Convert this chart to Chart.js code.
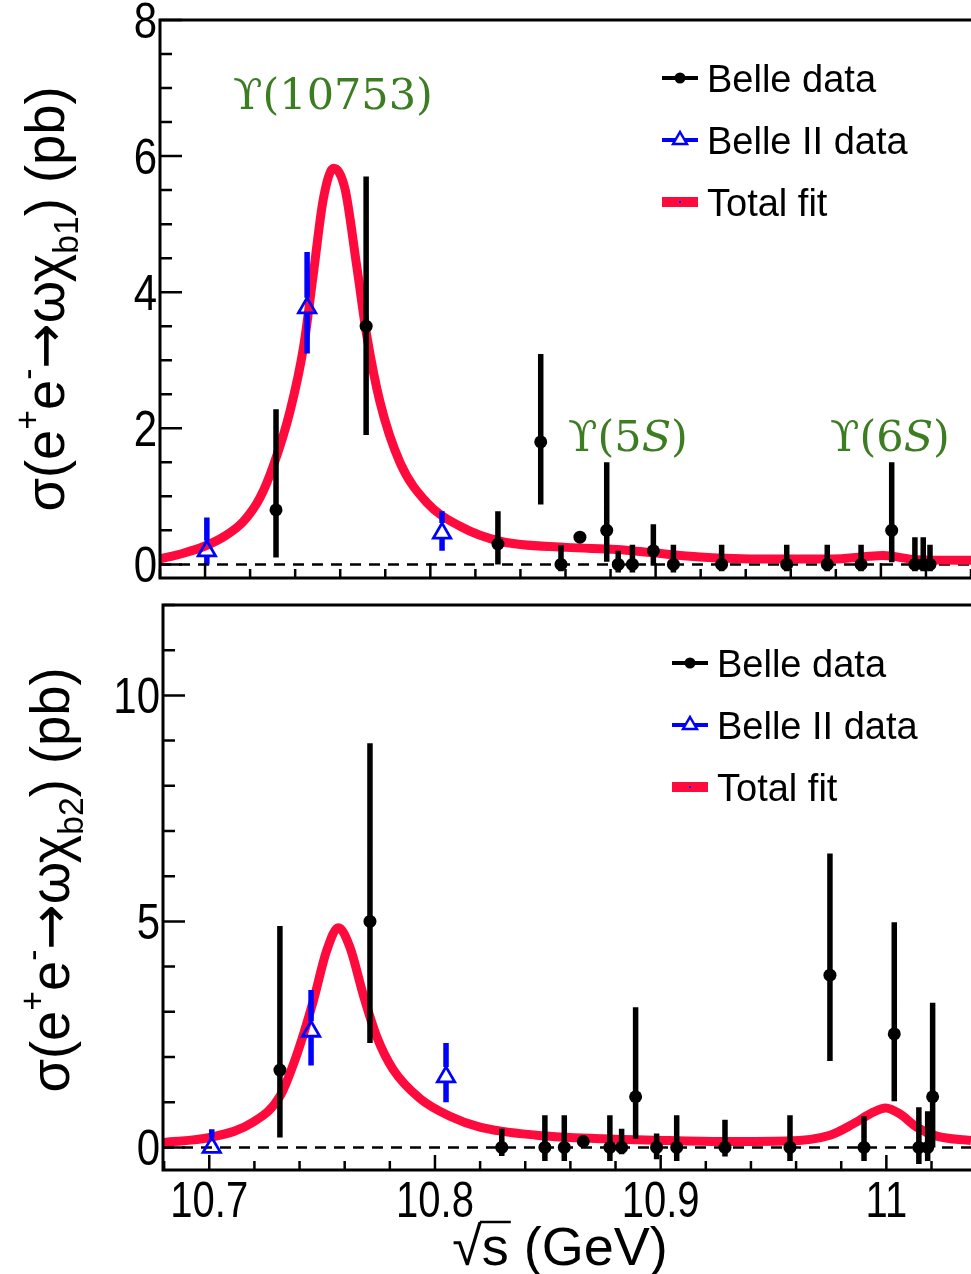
<!DOCTYPE html>
<html>
<head>
<meta charset="utf-8">
<script src="https://cdn.jsdelivr.net/npm/chart.js@4.4.1/dist/chart.umd.min.js"></script>
<style>
    html, body { margin: 0; padding: 0; background: #fff; overflow: hidden; }
    #top { position: absolute; left: 0; top: 0; }
    #bot { position: absolute; left: 0; top: 590px; }
</style>
</head>
<body>
<canvas id="top" width="971" height="590"></canvas>
<canvas id="bot" width="971" height="684"></canvas>
<script>
// chi_b1 panel (top)
const b1BelleX  = [10.7315, 10.7715, 10.830, 10.849, 10.858, 10.8664, 10.8783, 10.8834, 10.8897, 10.899, 10.9079, 10.9293, 10.9582, 10.9762, 10.9912, 11.0048, 11.0151, 11.0188, 11.0218];
const b1BelleY  = [0.80, 3.50, 0.30, 1.80, 0.00, 0.40, 0.50, 0.00, 0.00, 0.20, 0.00, 0.00, 0.00, 0.00, 0.00, 0.50, 0.00, 0.00, 0.00];
const b1BelleLo = [0.10, 1.90, 0.00, 0.88, -0.10, 0.40, 0.04, -0.12, -0.12, -0.02, -0.12, -0.10, -0.10, -0.10, -0.10, 0.03, -0.10, -0.10, -0.10];
const b1BelleHi = [2.28, 5.70, 0.78, 3.09, 0.28, 0.40, 1.50, 0.20, 0.29, 0.59, 0.29, 0.29, 0.29, 0.29, 0.29, 1.50, 0.40, 0.40, 0.29];
const b1Belle2X  = [10.7008, 10.7453, 10.8052];
const b1Belle2Y  = [0.20, 3.77, 0.46];
const b1Belle2Lo = [0.00, 3.10, 0.20];
const b1Belle2Hi = [0.69, 4.59, 0.78];
const b1FitX = [10.68, 10.69, 10.70, 10.708, 10.717, 10.7244, 10.7303, 10.7377, 10.7436, 10.748, 10.7525, 10.757, 10.7621, 10.7673, 10.7718, 10.7777, 10.7865, 10.7984, 10.8132, 10.831, 10.8605, 10.8827, 10.899, 10.9197, 10.949, 10.9789, 10.992, 11.001, 11.0159, 11.04];
const b1FitY = [0.08, 0.16, 0.27, 0.40, 0.63, 0.98, 1.45, 2.25, 3.17, 4.25, 5.37, 5.82, 5.52, 4.39, 3.36, 2.38, 1.50, 0.91, 0.56, 0.34, 0.25, 0.22, 0.17, 0.11, 0.08, 0.08, 0.11, 0.13, 0.07, 0.06];

// chi_b2 panel (bottom)
const b2BelleX  = [10.7313, 10.7712, 10.8296, 10.8487, 10.8573, 10.8657, 10.8775, 10.8827, 10.8889, 10.8982, 10.9071, 10.9285, 10.9573, 10.975, 10.9901, 11.0035, 11.0144, 11.0183, 11.0205];
const b2BelleY  = [1.71, 5.00, 0.00, 0.00, 0.00, 0.13, 0.00, 0.00, 1.12, 0.00, 0.00, 0.00, 0.00, 3.81, 0.00, 2.51, 0.00, 0.00, 1.12];
const b2BelleLo = [0.22, 2.31, -0.19, -0.30, -0.30, 0.13, -0.30, -0.15, 0.19, -0.26, -0.30, -0.20, -0.30, 1.91, -0.30, 1.02, -0.37, -0.30, 0.00];
const b2BelleHi = [4.90, 8.94, 0.41, 0.71, 0.71, 0.13, 0.71, 0.41, 3.10, 0.31, 0.71, 0.61, 0.71, 6.50, 0.69, 4.98, 0.89, 0.80, 3.20];
const b2Belle2X  = [10.7011, 10.7451, 10.8049];
const b2Belle2Y  = [0.00, 2.57, 1.56];
const b2Belle2Lo = [-0.10, 1.81, 1.00];
const b2Belle2Hi = [0.40, 3.48, 2.31];
const b2FitX = [10.6795, 10.7003, 10.7195, 10.7313, 10.7387, 10.7461, 10.752, 10.7572, 10.7623, 10.7682, 10.7742, 10.7815, 10.7934, 10.8066, 10.8199, 10.845, 10.8746, 10.9041, 10.93, 10.9558, 10.975, 10.9853, 10.9942, 10.9997, 11.006, 11.0134, 11.0223, 11.0375];
const b2FitY = [0.11, 0.22, 0.56, 1.13, 2.04, 3.24, 4.35, 4.86, 4.43, 3.38, 2.45, 1.72, 1.08, 0.69, 0.45, 0.27, 0.19, 0.15, 0.13, 0.14, 0.27, 0.52, 0.78, 0.87, 0.74, 0.45, 0.25, 0.15];

// axis labels
const b1YTicks = [0, 2, 4, 6, 8];
const b2YTicks = [0, 5, 10];
const xTickValues = [10.7, 10.8, 10.9, 11.0];
const xTickLabels = ['10.7', '10.8', '10.9', '11'];
const legendLabels = ['Belle data', 'Belle II data', 'Total fit'];

const FONT = '"Liberation Sans", Arial, Helvetica, sans-serif';
const ARROWFONT = '"DejaVu Sans", sans-serif';
const SERIF = '"DejaVu Serif", "Liberation Serif", serif';
const RED = '#ff0a3c';
const BLUE = '#0000ff';
const GREEN = '#3c7d22';

function toPoints(xs, ys) {
    return xs.map((x, i) => ({ x: x, y: ys[i] }));
}

// text with super/subscripts: [text, level, font?]
function partFont(p, size) {
    return `${p[1] ? size * 0.62 : size}px ${p[2] || FONT}`;
}

function richWidth(ctx, parts, size) {
    let w = 0;
    parts.forEach(p => {
        ctx.font = partFont(p, size);
        w += ctx.measureText(p[0]).width;
    });
    return w;
}

function drawRich(ctx, parts, size, x0) {
    let x = x0;
    parts.forEach(p => {
        ctx.font = partFont(p, size);
        const dy = p[1] > 0 ? -size * 0.45 : (p[1] < 0 ? size * 0.25 : 0);
        ctx.fillText(p[0], x, dy);
        x += ctx.measureText(p[0]).width;
    });
}

// narrow axis lettering, like the original
function narrowText(ctx, text, x, y, sx) {
    ctx.save();
    ctx.translate(x, y);
    ctx.scale(sx, 1);
    ctx.fillText(text, 0, 0);
    ctx.restore();
}

function drawTriangle(ctx, x, y, r) {
    ctx.beginPath();
    ctx.moveTo(x, y - r);
    ctx.lineTo(x + r * 0.866, y + r * 0.5);
    ctx.lineTo(x - r * 0.866, y + r * 0.5);
    ctx.closePath();
}

function drawLegend(ctx, lx, ly, dy) {
    ctx.save();
    ctx.lineCap = 'butt';
    // Belle
    ctx.strokeStyle = '#000';
    ctx.lineWidth = 4;
    ctx.beginPath(); ctx.moveTo(lx, ly); ctx.lineTo(lx + 36, ly); ctx.stroke();
    ctx.fillStyle = '#000';
    ctx.beginPath(); ctx.arc(lx + 18, ly, 5.5, 0, Math.PI * 2); ctx.fill();
    // Belle II
    ctx.strokeStyle = BLUE;
    ctx.beginPath(); ctx.moveTo(lx, ly + dy); ctx.lineTo(lx + 36, ly + dy); ctx.stroke();
    ctx.lineWidth = 2.5;
    drawTriangle(ctx, lx + 18, ly + dy, 8);
    ctx.fillStyle = '#fff'; ctx.fill(); ctx.stroke();
    // fit
    ctx.fillStyle = RED;
    ctx.fillRect(lx, ly + 2 * dy - 5, 36, 10);
    ctx.fillStyle = BLUE;
    ctx.fillRect(lx + 17, ly + 2 * dy - 1, 2, 2);
    // labels
    ctx.fillStyle = '#000';
    ctx.font = `38px ${FONT}`;
    ctx.textAlign = 'left';
    ctx.textBaseline = 'alphabetic';
    legendLabels.forEach((t, i) => ctx.fillText(t, lx + 45, ly + i * dy + 14));
    ctx.restore();
}

function makeStyle(cfg) {
    return {
        id: 'rootStyle',
        beforeDatasetsDraw(chart) {
            const { ctx, chartArea: a, scales: { y } } = chart;
            const y0 = y.getPixelForValue(0);
            ctx.save();
            ctx.strokeStyle = '#000';
            ctx.lineWidth = 2.5;
            ctx.setLineDash([11, 8]);
            ctx.beginPath(); ctx.moveTo(a.left, y0); ctx.lineTo(a.right, y0); ctx.stroke();
            ctx.restore();
        },
        beforeDatasetDraw(chart, args) {
            const ds = chart.data.datasets[args.index];
            if (!ds.errLo) return;
            const { ctx, chartArea: a, scales: { x, y } } = chart;
            ctx.save();
            ctx.beginPath();
            ctx.rect(a.left, a.top, a.right - a.left, a.bottom - a.top);
            ctx.clip();
            ctx.strokeStyle = ds.borderColor;
            ctx.lineWidth = ds.errWidth;
            ctx.lineCap = 'butt';
            ctx.beginPath();
            ds.data.forEach((p, i) => {
                const px = x.getPixelForValue(p.x);
                const pc = y.getPixelForValue(p.y);
                const ph = y.getPixelForValue(ds.errHi[i]);
                const pl = y.getPixelForValue(ds.errLo[i]);
                if (pc - ph > ds.errGap[0]) { ctx.moveTo(px, ph); ctx.lineTo(px, pc - ds.errGap[0]); }
                if (pl - pc > ds.errGap[1]) { ctx.moveTo(px, pc + ds.errGap[1]); ctx.lineTo(px, pl); }
            });
            ctx.stroke();
            ctx.restore();
        },
        afterDraw(chart) {
            const { ctx, chartArea: a, scales: { x, y } } = chart;
            ctx.save();
            // inner tick marks
            ctx.strokeStyle = '#000';
            ctx.lineWidth = 2.5;
            ctx.beginPath();
            for (let k = 0; ; k++) {
                const v = k * cfg.yMinor;
                if (v > cfg.yMax + 1e-9) break;
                const major = Math.abs(v / cfg.yMajor - Math.round(v / cfg.yMajor)) < 1e-6;
                const py = y.getPixelForValue(v);
                ctx.moveTo(a.left, py); ctx.lineTo(a.left + (major ? 22 : 12), py);
            }
            for (let k = 0; ; k++) {
                const v = 10.68 + k * 0.02;
                if (v > cfg.xMax) break;
                const major = Math.abs(v * 10 - Math.round(v * 10)) < 1e-6;
                const px = x.getPixelForValue(v);
                ctx.moveTo(px, a.bottom); ctx.lineTo(px, a.bottom - (major ? 15 : 9));
            }
            ctx.stroke();
            // frame (right side is cut off in the original)
            ctx.lineWidth = 3;
            ctx.beginPath();
            ctx.moveTo(a.right, a.top); ctx.lineTo(a.left, a.top);
            ctx.lineTo(a.left, a.bottom); ctx.lineTo(a.right, a.bottom);
            ctx.stroke();
            // y tick labels
            ctx.fillStyle = '#000';
            ctx.font = `50px ${FONT}`;
            ctx.textAlign = 'right';
            ctx.textBaseline = 'alphabetic';
            cfg.yTicks.forEach(v => narrowText(ctx, String(v), a.left - 3, y.getPixelForValue(v) + 18, 0.84));
            // x tick labels and title
            if (cfg.xLabels) {
                ctx.textAlign = 'center';
                xTickLabels.forEach((t, i) => narrowText(ctx, t, x.getPixelForValue(xTickValues[i]), a.bottom + 47, 0.8));
                ctx.font = `54px ${FONT}`;
                ctx.textAlign = 'left';
                const rad = ctx.measureText('\u221a').width;
                const sw = ctx.measureText('s').width;
                const full = ctx.measureText('\u221as (GeV)').width;
                const tx = 560 - full / 2, ty = a.bottom + 95;
                ctx.fillText('\u221as (GeV)', tx, ty);
                ctx.lineWidth = 2.5;
                ctx.beginPath();
                ctx.moveTo(tx + rad - 2, ty - 43); ctx.lineTo(tx + rad + sw + 2, ty - 43);
                ctx.stroke();
            }
            // y title
            ctx.save();
            ctx.translate(cfg.titleX, cfg.titleY);
            ctx.rotate(-Math.PI / 2);
            ctx.scale(0.97, 1);
            ctx.textAlign = 'left';
            ctx.textBaseline = 'alphabetic';
            const w = richWidth(ctx, cfg.title, 56);
            drawRich(ctx, cfg.title, 56, -w / 2);
            ctx.restore();
            // resonance labels
            if (cfg.notes) {
                ctx.fillStyle = GREEN;
                ctx.textAlign = 'left';
                ctx.textBaseline = 'alphabetic';
                cfg.notes.forEach(n => {
                    let nx = n.x;
                    n.parts.forEach(p => {
                        ctx.font = `${p[1] ? 'italic ' : ''}43px ${SERIF}`;
                        ctx.fillText(p[0], nx, n.y);
                        nx += ctx.measureText(p[0]).width;
                    });
                });
            }
            ctx.restore();
            drawLegend(ctx, cfg.legendX, cfg.legendY, 62);
        }
    };
}

function makePanel(id, cfg) {
    return new Chart(document.getElementById(id), {
        type: 'scatter',
        data: {
            datasets: [
                {
                    label: 'Total fit',
                    data: toPoints(cfg.fitX, cfg.fitY),
                    showLine: true,
                    borderColor: RED,
                    borderWidth: 9,
                    pointRadius: 0,
                    cubicInterpolationMode: 'monotone',
                    order: 3
                },
                {
                    label: 'Belle II data',
                    data: toPoints(cfg.b2X, cfg.b2Y),
                    errLo: cfg.b2Lo, errHi: cfg.b2Hi, errGap: [10, 6], errWidth: 5.5,
                    pointStyle: 'triangle',
                    pointRadius: 10,
                    borderColor: BLUE,
                    backgroundColor: 'rgba(255,255,255,0)',
                    borderWidth: 2.8,
                    order: 2
                },
                {
                    label: 'Belle data',
                    data: toPoints(cfg.bX, cfg.bY),
                    errLo: cfg.bLo, errHi: cfg.bHi, errGap: [0, 0], errWidth: 5.5,
                    pointStyle: 'circle',
                    pointRadius: 6.5,
                    backgroundColor: '#000',
                    borderColor: '#000',
                    borderWidth: 0,
                    order: 1
                }
            ]
        },
        options: {
            responsive: false,
            animation: false,
            events: [],
            layout: { padding: cfg.pad, autoPadding: false },
            plugins: { legend: { display: false }, tooltip: { enabled: false } },
            scales: {
                x: { type: 'linear', display: false, min: cfg.xMin, max: cfg.xMax },
                y: { type: 'linear', display: false, min: cfg.yMin, max: cfg.yMax }
            }
        },
        plugins: [makeStyle(cfg)]
    });
}

const TITLE1 = [['\u03c3(e', 0], ['+', 1], ['e', 0], ['-', 1], ['\u2192', 0, ARROWFONT], ['\u03c9\u03c7', 0], ['b1', -1], [') (pb)', 0]];
const TITLE2 = [['\u03c3(e', 0], ['+', 1], ['e', 0], ['-', 1], ['\u2192', 0, ARROWFONT], ['\u03c9\u03c7', 0], ['b2', -1], [') (pb)', 0]];

makePanel('top', {
    bX: b1BelleX, bY: b1BelleY, bLo: b1BelleLo, bHi: b1BelleHi,
    b2X: b1Belle2X, b2Y: b1Belle2Y, b2Lo: b1Belle2Lo, b2Hi: b1Belle2Hi,
    fitX: b1FitX, fitY: b1FitY,
    xMin: 10.68, xMax: 11.04, yMin: -0.2, yMax: 8,
    yMajor: 2, yMinor: 0.5, yTicks: b1YTicks,
    pad: { left: 160, top: 20, right: 0, bottom: 12 },
    xLabels: false,
    title: TITLE1,
    titleX: 64, titleY: 299,
    legendX: 662, legendY: 78,
    notes: [
        { x: 233, y: 109, parts: [['\u03d2(10753)', 0]] },
        { x: 568, y: 451, parts: [['\u03d2(5', 0], ['S', 1], [')', 0]] },
        { x: 830, y: 451, parts: [['\u03d2(6', 0], ['S', 1], [')', 0]] }
    ]
});

makePanel('bot', {
    bX: b2BelleX, bY: b2BelleY, bLo: b2BelleLo, bHi: b2BelleHi,
    b2X: b2Belle2X, b2Y: b2Belle2Y, b2Lo: b2Belle2Lo, b2Hi: b2Belle2Hi,
    fitX: b2FitX, fitY: b2FitY,
    xMin: 10.6795, xMax: 11.0375, yMin: -0.5, yMax: 12,
    yMajor: 5, yMinor: 1, yTicks: b2YTicks,
    pad: { left: 163, top: 15, right: 0, bottom: 104 },
    xLabels: true,
    title: TITLE2,
    titleX: 69, titleY: 290,
    legendX: 672, legendY: 73,
    notes: null
});
</script>
</body>
</html>
